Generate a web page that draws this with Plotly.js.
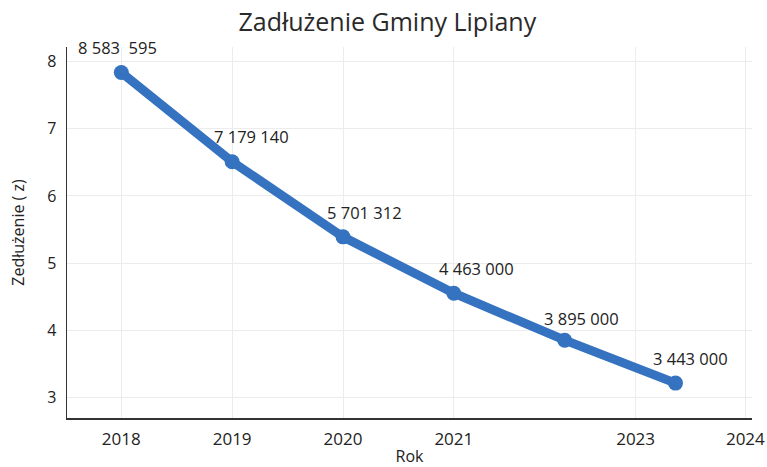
<!DOCTYPE html>
<html>
<head>
<meta charset="utf-8">
<script src="https://cdn.plot.ly/plotly-3.0.1.min.js"></script>
<style>html,body{margin:0;padding:0;background:#fff;}#chart{width:767px;height:467px;}</style>
</head>
<body>
<div id="chart"></div>
<script>
// Data
const years = [2018, 2019, 2020, 2021, 2022, 2023];
const debtPlotted = [7.84, 6.51, 5.39, 4.55, 3.85, 3.21];
const debtLabels = ["8 583  595", "7 179 140", "5 701 312", "4 463 000", "3 895 000", "3 443 000"];
const xTickVals = [2018, 2019, 2020, 2021, 2022.64, 2023.63];
const xTickText = ["2018", "2019", "2020", "2021", "2023", "2024"];
const yTickVals = [3, 4, 5, 6, 7, 8];

const labelDx = [-4, 19, 21, 23, 17, 15];
const labelDy = [25, 25, 24, 25, 22, 25];

const font = "Open Sans, Noto Sans, sans-serif";
const annotations = years.map((x, i) => ({
  x: x, y: debtPlotted[i], xref: 'x', yref: 'y',
  text: debtLabels[i], showarrow: false,
  xanchor: 'center', yanchor: 'middle',
  xshift: labelDx[i], yshift: labelDy[i],
  font: {family: font, size: 16.5, color: '#222'}
}));

const trace = {
  x: years, y: debtPlotted, type: 'scatter', mode: 'lines+markers',
  line: {color: '#3572c0', width: 9},
  marker: {color: '#3572c0', size: 15},
  hoverinfo: 'skip'
};

const layout = {
  width: 767, height: 467,
  margin: {l: 67, r: 15, t: 47, b: 49},
  paper_bgcolor: '#fff', plot_bgcolor: '#fff',
  showlegend: false,
  title: {text: 'Zadłużenie Gminy Lipiany', x: 0.505, xanchor: 'center', y: 0.953, yanchor: 'middle',
          font: {family: font, size: 25, color: '#2a2a2a'}},
  xaxis: {
    range: [2017.51, 2023.69],
    tickmode: 'array', tickvals: xTickVals, ticktext: xTickText,
    showgrid: true, gridcolor: '#ececec', gridwidth: 1,
    zeroline: false,
    showline: true, linecolor: '#333', linewidth: 1.5,
    ticks: '', ticklen: 0, ticklabelstandoff: 5,
    tickfont: {family: font, size: 17, color: '#222'},
    title: {text: 'Rok', standoff: 6, font: {family: font, size: 16, color: '#222'}}
  },
  yaxis: {
    range: [2.69, 8.22],
    tickmode: 'array', tickvals: yTickVals,
    showgrid: true, gridcolor: '#ececec', gridwidth: 1,
    zeroline: false,
    showline: true, linecolor: '#333', linewidth: 1.5,
    ticks: '', ticklen: 0, ticklabelstandoff: 6,
    tickfont: {family: font, size: 16, color: '#222'},
    title: {text: 'Zedłużenie ( z)', standoff: 18, font: {family: font, size: 16, color: '#222'}}
  },
  annotations: annotations
};

Plotly.newPlot('chart', [trace], layout, {displayModeBar: false, staticPlot: true});
</script>
</body>
</html>
